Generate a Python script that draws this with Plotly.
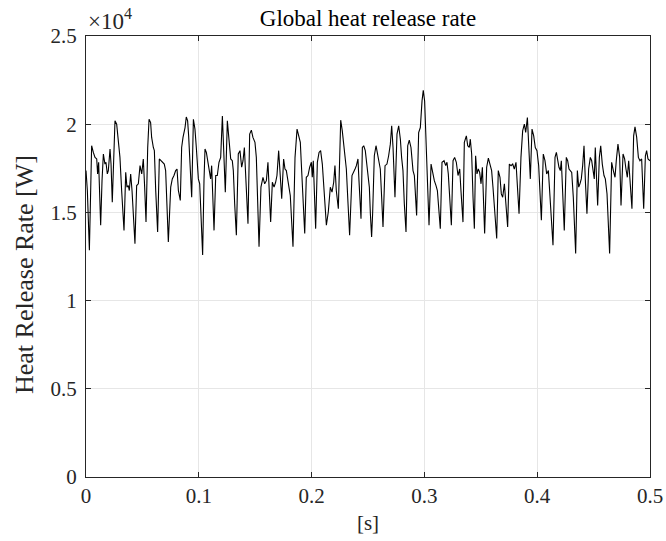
import plotly.graph_objects as go

time_s = [
0.0000,0.0012,0.0030,0.0041,0.0050,0.0065,0.0080,0.0095,0.0103,0.0112,0.0130,0.0142,0.0154,0.0168,0.0177,0.0189,0.0198,0.0213,0.0222,0.0233,
0.0245,0.0257,0.0272,0.0278,0.0287,0.0301,0.0316,0.0337,0.0352,0.0363,0.0375,0.0384,0.0396,0.0408,0.0434,0.0449,0.0464,0.0479,0.0494,0.0508,
0.0520,0.0532,0.0547,0.0559,0.0573,0.0582,0.0597,0.0606,0.0618,0.0635,0.0650,0.0665,0.0680,0.0694,0.0706,0.0718,0.0730,0.0751,0.0765,0.0780,
0.0795,0.0807,0.0819,0.0836,0.0848,0.0860,0.0878,0.0889,0.0901,0.0910,0.0922,0.0937,0.0952,0.0966,0.0978,0.0996,0.1008,0.1020,0.1034,0.1046,
0.1055,0.1067,0.1084,0.1096,0.1105,0.1114,0.1123,0.1135,0.1150,0.1164,0.1179,0.1194,0.1209,0.1223,0.1235,0.1253,0.1268,0.1283,0.1297,0.1306,
0.1318,0.1333,0.1350,0.1365,0.1380,0.1392,0.1404,0.1415,0.1436,0.1451,0.1466,0.1480,0.1498,0.1510,0.1522,0.1534,0.1551,0.1569,0.1584,0.1599,
0.1613,0.1622,0.1637,0.1652,0.1667,0.1681,0.1693,0.1708,0.1723,0.1735,0.1752,0.1764,0.1776,0.1788,0.1800,0.1811,0.1835,0.1853,0.1871,0.1888,
0.1900,0.1909,0.1921,0.1939,0.1953,0.1968,0.1983,0.1998,0.2006,0.2015,0.2036,0.2051,0.2066,0.2080,0.2095,0.2107,0.2131,0.2148,0.2166,0.2181,
0.2196,0.2207,0.2219,0.2237,0.2246,0.2258,0.2272,0.2287,0.2299,0.2308,0.2323,0.2337,0.2358,0.2373,0.2385,0.2397,0.2411,0.2420,0.2438,0.2450,
0.2462,0.2476,0.2491,0.2503,0.2512,0.2521,0.2532,0.2541,0.2556,0.2571,0.2586,0.2598,0.2609,0.2621,0.2633,0.2651,0.2668,0.2683,0.2698,0.2710,
0.2722,0.2739,0.2757,0.2772,0.2787,0.2798,0.2810,0.2822,0.2837,0.2852,0.2866,0.2881,0.2899,0.2911,0.2931,0.2949,0.2964,0.2979,0.2990,0.3002,
0.3017,0.3029,0.3041,0.3059,0.3073,0.3088,0.3103,0.3115,0.3141,0.3156,0.3174,0.3189,0.3200,0.3212,0.3239,0.3254,0.3268,0.3283,0.3298,0.3313,
0.3324,0.3333,0.3342,0.3354,0.3372,0.3384,0.3398,0.3407,0.3419,0.3431,0.3443,0.3454,0.3466,0.3478,0.3490,0.3502,0.3514,0.3534,0.3552,0.3567,
0.3582,0.3596,0.3608,0.3641,0.3655,0.3670,0.3682,0.3694,0.3709,0.3720,0.3738,0.3753,0.3768,0.3783,0.3797,0.3812,0.3824,0.3839,0.3856,0.3871,
0.3886,0.3898,0.3913,0.3927,0.3939,0.3954,0.3969,0.3983,0.3998,0.4013,0.4037,0.4054,0.4069,0.4084,0.4099,0.4111,0.4140,0.4158,0.4170,0.4193,
0.4205,0.4214,0.4223,0.4240,0.4258,0.4270,0.4282,0.4294,0.4306,0.4320,0.4341,0.4356,0.4368,0.4379,0.4391,0.4403,0.4415,0.4427,0.4441,0.4456,
0.4471,0.4483,0.4498,0.4506,0.4515,0.4536,0.4551,0.4563,0.4577,0.4592,0.4604,0.4619,0.4642,0.4660,0.4675,0.4690,0.4701,0.4716,0.4731,0.4743,
0.4761,0.4775,0.4787,0.4799,0.4811,0.4823,0.4840,0.4855,0.4867,0.4882,0.4897,0.4911,0.4926,0.4944,0.4959,0.4970,0.4982,0.5000,
]

heat_release_W = [
17370,16240,12860,16800,18780,18400,18120,18030,17180,17840,14270,16800,18310,17740,17840,17180,17370,18590,17740,15580,
18680,20190,20000,19620,19150,18120,16240,13980,17270,16430,16520,16240,17180,16240,13230,16520,16620,17650,17180,18030,
16430,14450,18680,20280,20090,19250,18680,18500,16240,13890,18030,17930,17840,17740,17370,15300,13330,16430,16900,17090,
17370,17460,16240,15680,18680,19250,19810,20410,20190,19340,17740,15860,20280,19720,18680,16900,16620,14360,12580,16800,
18590,18400,17740,17370,16900,17650,15860,13980,17090,17090,17840,18120,20470,17740,16150,20190,19250,18030,17930,17370,
15490,13700,18310,18500,17560,17930,18680,17180,14360,19440,19660,19250,18970,18120,15300,13050,16430,16990,16620,16800,
17840,16800,14450,16710,16430,16710,17090,18500,17180,15770,18030,17460,17370,16800,16240,15960,13050,18120,19720,19250,
18970,17740,15860,13800,16990,17090,17560,17840,16990,17930,14080,17840,18400,18500,17740,16520,14270,15020,16430,16150,
16710,17650,16240,15210,17740,20230,19620,18680,18030,17460,15490,13700,17090,17270,17460,17650,18030,16800,14640,18680,
18780,18500,17560,16710,16430,14920,13610,14920,18210,18780,18210,17650,17460,15860,14170,17650,17740,18210,18870,19910,
18680,15860,19440,19910,19150,18120,17370,15490,13890,18780,19100,18680,17370,17090,14830,19530,19810,21320,21920,21320,
18870,16240,14270,17740,17180,16800,16520,16240,14080,17840,17930,17650,17840,17180,14270,17930,18120,17840,17090,17460,
16240,14920,14450,18970,19340,18780,18680,19150,18310,15860,14080,18210,17180,17460,17270,16620,17560,13800,17560,18080,
17740,17370,16430,13520,17370,16990,16050,15860,16620,15860,14170,17740,17650,17740,17460,17840,16240,14920,18120,19620,
20000,19530,20380,18870,16900,19720,19340,18680,18500,17650,14550,18310,17930,17180,17370,16150,13140,18120,18400,17560,
17370,17930,16800,13980,18120,17930,17460,17370,17270,15860,12670,17370,16430,16620,16900,17650,18780,16800,14920,17460,
18120,17930,17370,16900,18680,15390,18120,18780,17740,17090,16900,16050,12670,17840,17370,16990,17930,18870,18120,15390,
18310,18030,17460,16990,17930,16800,15210,19340,19850,19250,18120,17930,18030,15210,18210,18500,18030,17930,
]

y_tick_values = [0, 5000, 10000, 15000, 20000, 25000]
y_tick_labels = ["0", "0.5", "1", "1.5", "2", "2.5"]
x_tick_values = [0, 0.1, 0.2, 0.3, 0.4, 0.5]
x_tick_labels = ["0", "0.1", "0.2", "0.3", "0.4", "0.5"]

FONT = "Liberation Serif"
AX = "#262626"

fig = go.Figure()
fig.add_trace(go.Scatter(x=time_s, y=heat_release_W, mode="lines",
                         line=dict(color="black", width=1.1), hoverinfo="skip"))

axis_common = dict(showline=True, linecolor=AX, linewidth=1, mirror="ticks",
                   ticks="inside", ticklen=5, tickcolor=AX, tickwidth=1,
                   showgrid=True, gridcolor="#e6e6e6", gridwidth=1,
                   zeroline=False, automargin=False,
                   tickfont=dict(family=FONT, size=21, color=AX))

fig.update_xaxes(range=[0, 0.5], tickvals=x_tick_values, ticktext=x_tick_labels,
                 title=dict(text="[s]", font=dict(family=FONT, size=21, color=AX), standoff=8),
                 **axis_common)
fig.update_yaxes(range=[0, 25000], tickvals=y_tick_values, ticktext=y_tick_labels,
                 ticklabelstandoff=4, **axis_common)

fig.update_layout(
    width=666, height=541,
    margin=dict(l=86, r=16, t=36, b=64),
    paper_bgcolor="white", plot_bgcolor="white",
    showlegend=False,
    title=dict(text="Global heat release rate", x=0.5, xanchor="center", xref="paper",
               y=1 - 18 / 541, yref="container", yanchor="middle",
               font=dict(family=FONT, size=23, color="black")),
    annotations=[
        dict(text="×10<sup>4</sup>", xref="paper", yref="paper", x=0, y=1,
             xanchor="left", yanchor="bottom", yshift=0, showarrow=False,
             font=dict(family=FONT, size=23, color=AX)),
        dict(text="Heat Release Rate [W]", xref="paper", yref="paper",
             x=0, y=(477 - 275) / 441, xanchor="center", yanchor="middle",
             xshift=-62, textangle=-90, showarrow=False,
             font=dict(family=FONT, size=26, color=AX)),
    ],
)

fig.write_html("out.html")
